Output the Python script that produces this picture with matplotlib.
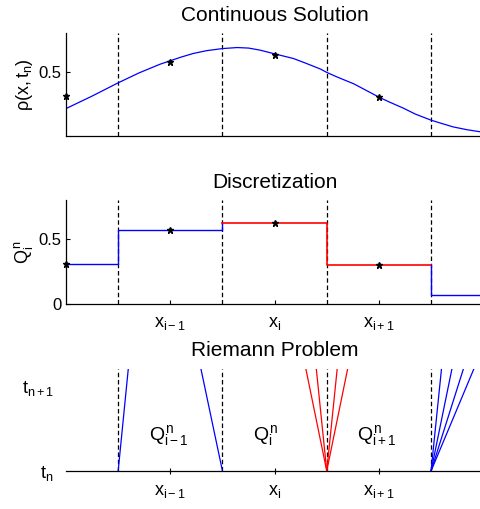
import numpy as np
import matplotlib
matplotlib.use("Agg")
import matplotlib.pyplot as plt

plt.rcParams['font.family'] = ['Liberation Sans', 'DejaVu Sans']
plt.rcParams['mathtext.fontset'] = 'custom'
plt.rcParams['mathtext.rm'] = 'Liberation Sans'
plt.rcParams['mathtext.it'] = 'Liberation Sans'
plt.rcParams['mathtext.bf'] = 'Liberation Sans:bold'

# ---------------- data ----------------
curve_x = [0.5, 0.75, 1.0, 1.2, 1.4, 1.6, 1.72, 1.85, 2.0, 2.14, 2.25, 2.36, 2.5,
           2.68, 2.8, 2.94, 3.0, 3.1, 3.26, 3.4, 3.5, 3.6, 3.73, 3.85, 4.0, 4.1,
           4.21, 4.35, 4.47, 4.5]
curve_y = [0.213, 0.31, 0.413, 0.49, 0.557, 0.612, 0.641, 0.663, 0.679, 0.687, 0.683,
           0.667, 0.638, 0.602, 0.565, 0.52, 0.494, 0.458, 0.405, 0.345, 0.302, 0.264,
           0.218, 0.17, 0.123, 0.098, 0.071, 0.048, 0.033, 0.03]

cell_edges = [0.5, 1.0, 2.0, 3.0, 4.0, 4.5]
Q = [0.307, 0.575, 0.627, 0.305, 0.069]
point_x = [0.5, 1.5, 2.5, 3.5]
interfaces = [1, 2, 3, 4]

xtick_pos = [1.5, 2.5, 3.5]
xtick_labels = ['$x_{i-1}$', '$x_i$', '$x_{i+1}$']

# Riemann problem wave lines: (origin, x at top of window, colour)
wave_origin = [1, 2, 3, 3, 3, 3, 4, 4, 4, 4]
wave_top = [1.097, 1.794, 2.80, 2.90, 3.10, 3.20, 4.10, 4.20, 4.31, 4.41]
wave_color = ['blue', 'blue', 'red', 'red', 'red', 'red', 'blue', 'blue', 'blue', 'blue']
t_top = 1.2
ytick_t = [0, 1]
ytick_t_labels = ['$t_n$', '$t_{n+1}$']
q_label_x = [1.3, 2.29, 3.29]
q_label_y = 0.36
q_labels = ['$Q^n_{i-1}$', '$Q^n_i$', '$Q^n_{i+1}$']

# ---------------- figure ----------------
W, H = 480, 509
fig = plt.figure(figsize=(W / 100, H / 100), dpi=100)

def frac(left, top, right, bottom):
    return [left / W, 1 - bottom / H, (right - left) / W, (bottom - top) / H]

xlim = (0.5, 4.5)
dash = (0, (3.6, 2.2))
tick_fs = 12
math_fs = 13

ax1 = fig.add_axes(frac(66, 33, 483.2, 136))
ax2 = fig.add_axes(frac(66, 200.3, 483.2, 304.3))
ax3 = fig.add_axes(frac(66, 369, 483.2, 471))

for ax in (ax1, ax2, ax3):
    ax.set_xlim(*xlim)
    for s in ('top', 'right'):
        ax.spines[s].set_visible(False)
    for s in ('left', 'bottom'):
        ax.spines[s].set_linewidth(0.9)
    ax.tick_params(labelsize=tick_fs, direction='in', length=3, width=0.8)

# --- panel 1 ---
ax1.set_ylim(0, 0.8)
for xi in interfaces:
    ax1.plot([xi, xi], [0, 0.8], color='black', lw=0.9, linestyle=dash)
ax1.plot(curve_x, curve_y, color='blue', lw=0.9)
ax1.plot(point_x, Q[:4], linestyle='none', marker='*', color='black', ms=4.5, clip_on=False)
ax1.set_xticks([])
ax1.set_yticks([0.5])
ax1.set_yticklabels(['0.5'])
ax1.tick_params(axis='y', pad=3)
ax1.set_ylabel('$\\rho(x,t_n)$', fontsize=math_fs, labelpad=3)
ax1.set_title('Continuous Solution', fontsize=15, pad=9)

# --- panel 2 ---
ax2.set_ylim(0, 0.8)
for xi in interfaces:
    ax2.plot([xi, xi], [0, 0.8], color='black', lw=0.9, linestyle=dash)
e = cell_edges
ax2.plot([e[0], e[1], e[1], e[2], e[2]], [Q[0], Q[0], Q[1], Q[1], Q[2]], color='blue', lw=1.0)
ax2.plot([e[2], e[3], e[3], e[4]], [Q[2], Q[2], Q[3], Q[3]], color='red', lw=1.2)
ax2.plot([e[4], e[4], e[5]], [Q[3], Q[4], Q[4]], color='blue', lw=1.0)
ax2.plot(point_x, Q[:4], linestyle='none', marker='*', color='black', ms=4.5, clip_on=False)
ax2.set_xticks(xtick_pos)
ax2.set_xticklabels(xtick_labels, fontsize=math_fs)
ax2.tick_params(axis='x', pad=8)
ax2.set_yticks([0, 0.5])
ax2.set_yticklabels(['0', '0.5'])
ax2.tick_params(axis='y', pad=3)
ax2.set_ylabel('$Q^n_i$', fontsize=math_fs, labelpad=3)
ax2.set_title('Discretization', fontsize=15, pad=9)

# --- panel 3 ---
ax3.set_ylim(0, t_top)
ax3.spines['left'].set_visible(False)
for xi in interfaces:
    ax3.plot([xi, xi], [0, t_top], color='black', lw=0.9, linestyle=dash)
for x0, xt, c in zip(wave_origin, wave_top, wave_color):
    ax3.plot([x0, xt], [0, t_top], color=c, lw=0.9)
for x, s in zip(q_label_x, q_labels):
    ax3.text(x, q_label_y, s, fontsize=14, ha='left', va='baseline')
ax3.set_xticks(xtick_pos)
ax3.set_xticklabels(xtick_labels, fontsize=math_fs)
ax3.tick_params(axis='x', direction='inout', length=5, pad=6)
ax3.set_yticks(ytick_t)
ax3.set_yticklabels(ytick_t_labels, fontsize=math_fs)
ax3.tick_params(axis='y', length=0, pad=9)
ax3.set_title('Riemann Problem', fontsize=15, pad=9)

fig.savefig('out.png', dpi=100)
